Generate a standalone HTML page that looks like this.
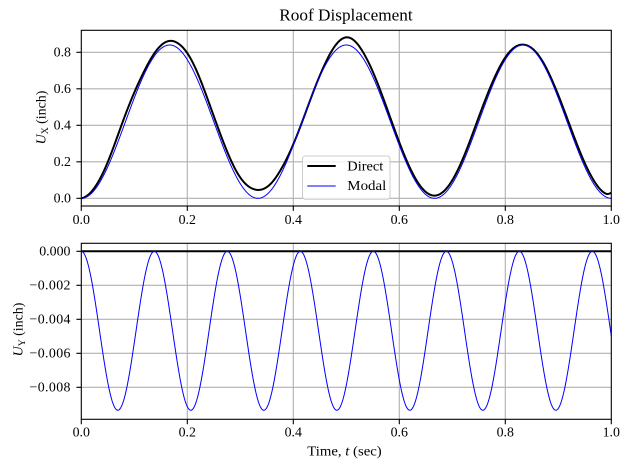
<!DOCTYPE html>
<html><head><meta charset="utf-8"><style>
html,body{margin:0;padding:0;background:#fff;}
svg{display:block;font-family:"Liberation Serif","DejaVu Serif",serif;}
</style></head><body>
<svg id="s" width="630" height="470" viewBox="0 0 630 470" xmlns="http://www.w3.org/2000/svg">
<rect width="630" height="470" fill="#fff"/>
<g stroke="#b0b0b0" stroke-width="1.1" fill="none">
<path d="M187.3 30.3V206M293.3 30.3V206M399.3 30.3V206M505.3 30.3V206"/>
<path d="M81.3 198.3H611.3M81.3 161.8H611.3M81.3 125.3H611.3M81.3 88.8H611.3M81.3 52.3H611.3"/>
<path d="M187.3 243.3V419.3M293.3 243.3V419.3M399.3 243.3V419.3M505.3 243.3V419.3"/>
<path d="M81.3 251.3H611.3M81.3 285.3H611.3M81.3 319.3H611.3M81.3 353.3H611.3M81.3 387.3H611.3"/>
</g>
<g id="curves"></g>
<rect x="302.5" y="156" width="87.5" height="43.3" rx="2.8" fill="#fff" fill-opacity="0.8" stroke="#cccccc" stroke-width="1"/>
<line x1="307.3" y1="166" x2="335.7" y2="166" stroke="#000" stroke-width="2"/>
<line x1="307.3" y1="186" x2="335.7" y2="186" stroke="#0000ff" stroke-width="1"/>
<text x="347.3" y="170.7" font-size="13.9" textLength="36" lengthAdjust="spacingAndGlyphs">Direct</text>
<text x="347.3" y="190" font-size="13.9" textLength="39" lengthAdjust="spacingAndGlyphs">Modal</text>
<rect x="81.3" y="30.3" width="530" height="175.7" fill="none" stroke="#000" stroke-width="1.1"/>
<rect x="81.3" y="243.3" width="530" height="176" fill="none" stroke="#000" stroke-width="1.1"/>
<g stroke="#000" stroke-width="1.1">
<path d="M81.3 206v4.9M187.3 206v4.9M293.3 206v4.9M399.3 206v4.9M505.3 206v4.9M611.3 206v4.9"/>
<path d="M81.3 419.3v4.9M187.3 419.3v4.9M293.3 419.3v4.9M399.3 419.3v4.9M505.3 419.3v4.9M611.3 419.3v4.9"/>
<path d="M76.4 198.3h4.9M76.4 161.8h4.9M76.4 125.3h4.9M76.4 88.8h4.9M76.4 52.3h4.9"/>
<path d="M76.4 251.3h4.9M76.4 285.3h4.9M76.4 319.3h4.9M76.4 353.3h4.9M76.4 387.3h4.9"/>
</g>
<g font-size="13.9" fill="#000">
<g text-anchor="middle">
<text x="81.3" y="224">0.0</text><text x="187.3" y="224">0.2</text><text x="293.3" y="224">0.4</text><text x="399.3" y="224">0.6</text><text x="505.3" y="224">0.8</text><text x="611.3" y="224">1.0</text>
<text x="81.3" y="436.7">0.0</text><text x="187.3" y="436.7">0.2</text><text x="293.3" y="436.7">0.4</text><text x="399.3" y="436.7">0.6</text><text x="505.3" y="436.7">0.8</text><text x="611.3" y="436.7">1.0</text>
</g>
<g text-anchor="end">
<text x="71" y="202.7">0.0</text><text x="71" y="166.2">0.2</text><text x="71" y="129.7">0.4</text><text x="71" y="93.2">0.6</text><text x="71" y="56.7">0.8</text>
<text x="70.5" y="255.7">0.000</text>
<text x="70.5" y="289.7" textLength="41" lengthAdjust="spacing">−0.002</text>
<text x="70.5" y="323.7" textLength="41" lengthAdjust="spacing">−0.004</text>
<text x="70.5" y="357.7" textLength="41" lengthAdjust="spacing">−0.006</text>
<text x="70.5" y="391.7" textLength="41" lengthAdjust="spacing">−0.008</text>
</g>
</g>
<text x="279.3" y="20.7" font-size="16.7" textLength="133.4" lengthAdjust="spacingAndGlyphs">Roof Displacement</text>
<text x="307.3" y="455.3" font-size="13.9" textLength="74.4" lengthAdjust="spacingAndGlyphs">Time, <tspan font-style="italic">t</tspan> (sec)</text>
<text transform="translate(45.7,117.5) rotate(-90)" text-anchor="middle" font-size="13.9"><tspan font-style="italic">U</tspan><tspan font-size="9.7" dy="2.5">X</tspan><tspan dy="-2.5"> (inch)</tspan></text>
<text transform="translate(22.3,329.5) rotate(-90)" text-anchor="middle" font-size="13.9"><tspan font-style="italic">U</tspan><tspan font-size="9.7" dy="2.5">Y</tspan><tspan dy="-2.5"> (inch)</tspan></text>
</svg>
<script>
(function(){
var NS="http://www.w3.org/2000/svg";
function tx(t){return 81.3+t*530;}
function ty(v){return 198.3-v*182.5;}
function by(v){return 251.3-v*17000;}
var P=2*Math.PI;
function modal(t){return 0.42*(1-Math.cos(P*t/0.3333));}
var xs=[0,0.04,0.08,0.125,0.175,0.21,0.25,0.29,0.33,0.37,0.41,0.45,0.5,0.54,0.58,0.625,0.67,0.71,0.75,0.79,0.835,0.875,0.92,0.96,0.99,1.0];
var ys=[0,0.02,0.04,0.015,0.025,0.038,0.03,0.03,0.046,0.03,0.0,0.005,0.042,0.03,0.02,0.015,0.015,0.02,0.025,0.015,0.002,0.01,0.02,0.02,0.018,0.03];
function slope(i){
 if(i==0) return (ys[1]-ys[0])/(xs[1]-xs[0]);
 var n=xs.length-1;
 if(i==n) return (ys[n]-ys[n-1])/(xs[n]-xs[n-1]);
 return (ys[i+1]-ys[i-1])/(xs[i+1]-xs[i-1]);
}
function d(t){
 var i=0; while(i<xs.length-2 && t>xs[i+1]) i++;
 var h=xs[i+1]-xs[i], s=(t-xs[i])/h;
 var h00=2*s*s*s-3*s*s+1,h10=s*s*s-2*s*s+s,h01=-2*s*s*s+3*s*s,h11=s*s*s-s*s;
 return h00*ys[i]+h10*h*slope(i)+h01*ys[i+1]+h11*h*slope(i+1);
}
function uy(t){return -0.00935/2*(1-Math.cos(P*t/0.13774));}
var N=900,a=[],b=[],c=[];
for(var k=0;k<=N;k++){
 var t=k/N;
 a.push(tx(t).toFixed(2)+","+ty(modal(t)+d(t)).toFixed(2));
 b.push(tx(t).toFixed(2)+","+ty(modal(t)).toFixed(2));
 c.push(tx(t).toFixed(2)+","+by(uy(t)).toFixed(2));
}
var g=document.getElementById("curves");
function add(pts,col,w){var p=document.createElementNS(NS,"polyline");p.setAttribute("points",pts.join(" "));p.setAttribute("fill","none");p.setAttribute("stroke",col);p.setAttribute("stroke-width",w);p.setAttribute("stroke-linejoin","round");g.appendChild(p);}
add(a,"#000",2);
add(b,"#0000ff",1);
add([tx(0)+","+by(0),tx(1)+","+by(0)],"#000",2);
add(c,"#0000ff",1);
})();
</script>
</body></html>
